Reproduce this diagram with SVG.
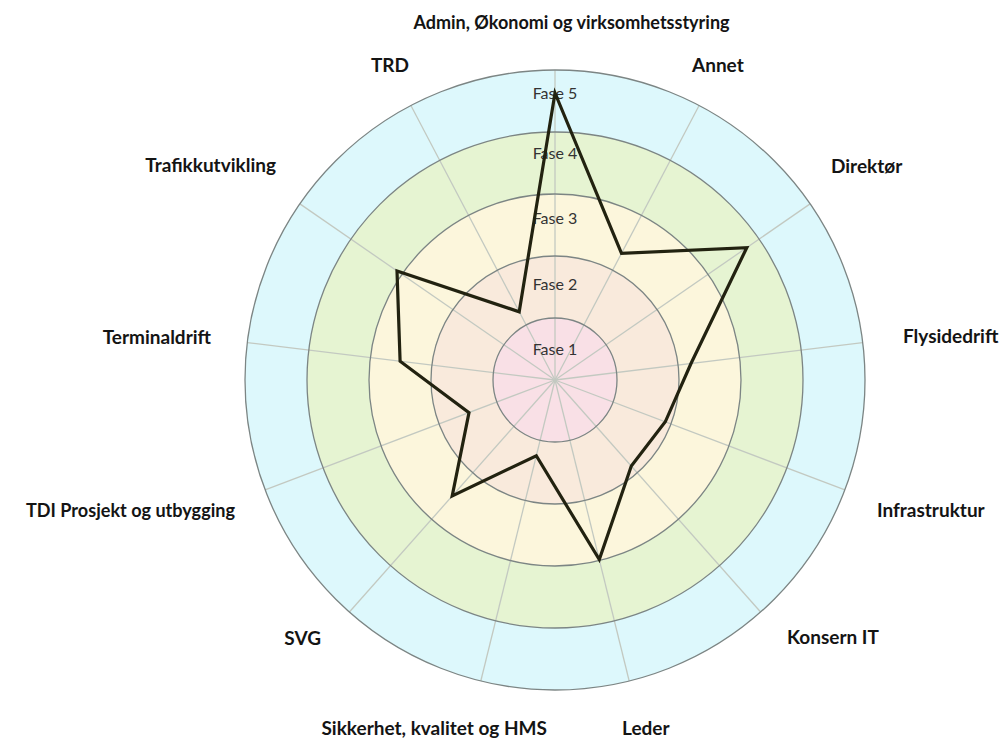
<svg xmlns="http://www.w3.org/2000/svg" width="1005" height="743" viewBox="0 0 1005 743">
  <style>
    .ring { stroke: #7c8584; stroke-width: 1.3; }
    .spoke { stroke: #c3c9c1; stroke-width: 1.3; fill: none; }
    .phase { font-family: Lato, "Liberation Sans", sans-serif; font-size: 16px; fill: #333333; text-anchor: middle; }
    .axis { font-family: Lato, "Liberation Sans", sans-serif; font-size: 19px; font-weight: bold; fill: #141414; }
    .series { fill: none; stroke: #222210; stroke-width: 3.2; stroke-linejoin: miter; }
  </style>

  <rect width="1005" height="743" fill="#ffffff"/>

  <!-- Phase bands, outermost first -->
  <g id="bands">
    <circle cx="555" cy="380" r="310" fill="#ddf8fc"/>
    <circle cx="555" cy="380" r="248" fill="#e6f4d2"/>
    <circle cx="555" cy="380" r="186" fill="#fcf6dc"/>
    <circle cx="555" cy="380" r="124" fill="#f9eadc"/>
    <circle cx="555" cy="380" r="62" fill="#f9e0e6"/>
  </g>

  <!-- 13 axes, one per unit -->
  <g id="spokes" class="spoke">
    <line x1="555" y1="380" x2="555" y2="70"/>
    <line x1="555" y1="380" x2="699.1" y2="105.5"/>
    <line x1="555" y1="380" x2="810.1" y2="203.9"/>
    <line x1="555" y1="380" x2="862.7" y2="342.6"/>
    <line x1="555" y1="380" x2="844.9" y2="489.9"/>
    <line x1="555" y1="380" x2="760.6" y2="612.0"/>
    <line x1="555" y1="380" x2="629.2" y2="681.0"/>
    <line x1="555" y1="380" x2="480.8" y2="681.0"/>
    <line x1="555" y1="380" x2="349.4" y2="612.0"/>
    <line x1="555" y1="380" x2="265.1" y2="489.9"/>
    <line x1="555" y1="380" x2="247.3" y2="342.6"/>
    <line x1="555" y1="380" x2="299.9" y2="203.9"/>
    <line x1="555" y1="380" x2="410.9" y2="105.5"/>
  </g>

  <!-- Band outlines -->
  <g id="rings" class="ring" fill="none">
    <circle cx="555" cy="380" r="310"/>
    <circle cx="555" cy="380" r="248"/>
    <circle cx="555" cy="380" r="186"/>
    <circle cx="555" cy="380" r="124"/>
    <circle cx="555" cy="380" r="62"/>
  </g>

  <!-- Phase names -->
  <g id="phase-labels" class="phase">
    <text id="fase5" x="555" y="99">Fase 5</text>
    <text id="fase4" x="555" y="159">Fase 4</text>
    <text id="fase3" x="555" y="224">Fase 3</text>
    <text id="fase2" x="555" y="290">Fase 2</text>
    <text id="fase1" x="555" y="355">Fase 1</text>
  </g>

  <!-- Maturity profile -->
  <g id="connectors">
    <polygon class="series" points="555,93 621.5,253.4 746.8,247.6 691,363.5 665.3,421.8 631.3,466.1 599.3,559.6 536.3,455.7 452.2,496 469,412.6 400.1,361.2 397,270.9 519.2,311.8"/>
  </g>

  <!-- Unit names -->
  <g id="axis-labels" class="axis">
    <g id="admin"><text x="571.5" y="29" text-anchor="middle" style="font-size:18px">Admin, Økonomi og virksomhetsstyring</text></g>
    <g id="annet"><text x="692" y="72">Annet</text></g>
    <g id="direktor"><text x="831" y="173">Direktør</text></g>
    <g id="flysidedrift"><text x="903" y="343">Flysidedrift</text></g>
    <g id="infrastruktur"><text x="877" y="517">Infrastruktur</text></g>
    <g id="konsern-it"><text x="787" y="644">Konsern IT</text></g>
    <g id="leder"><text x="622" y="735">Leder</text></g>
    <g id="sikkerhet"><text x="547" y="735" text-anchor="end">Sikkerhet, kvalitet og HMS</text></g>
    <g id="svg"><text x="321" y="645" text-anchor="end">SVG</text></g>
    <g id="tdi"><text x="235" y="517" text-anchor="end" textLength="209" lengthAdjust="spacingAndGlyphs">TDI Prosjekt og utbygging</text></g>
    <g id="terminaldrift"><text x="211" y="344" text-anchor="end">Terminaldrift</text></g>
    <g id="trafikkutvikling"><text x="276" y="172" text-anchor="end">Trafikkutvikling</text></g>
    <g id="trd"><text x="409" y="72" text-anchor="end">TRD</text></g>
  </g>
</svg>
